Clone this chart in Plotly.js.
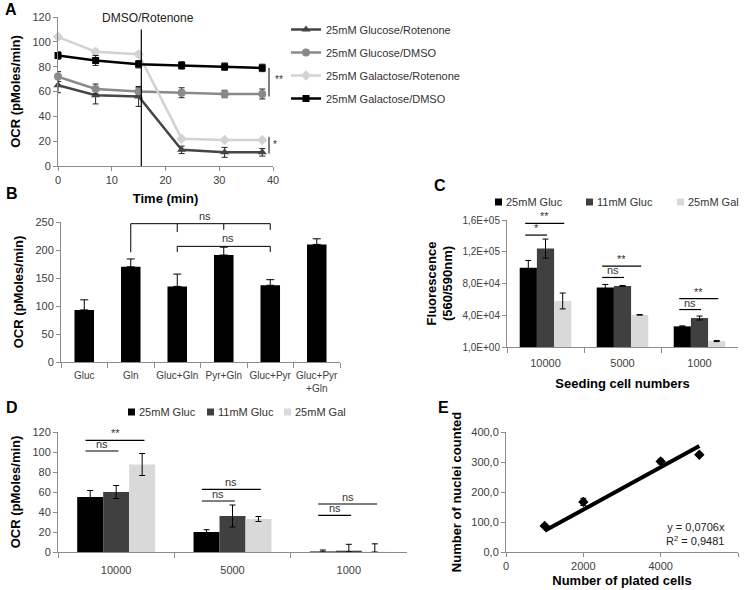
<!DOCTYPE html>
<html>
<head>
<meta charset="utf-8">
<script src="https://cdn.plot.ly/plotly-3.0.1.min.js"></script>
<style>html,body{margin:0;padding:0;background:#fff;}#chart{width:750px;height:590px;}</style>
</head>
<body>
<div id="chart"></div>
<script>
// ---------- Panel A data ----------
const timeA = [0, 7, 15, 23, 31, 38];
const seriesNamesA = ['25mM Glucose/Rotenone', '25mM Glucose/DMSO', '25mM Galactose/Rotenone', '25mM Galactose/DMSO'];
const glucRot = [65, 57, 56, 13, 11, 11];
const glucRotErr = [6, 7, 8, 3, 4, 3];
const glucDmso = [72, 62, 60, 59, 58, 58];
const glucDmsoErr = [4, 4, 3, 4, 3, 4];
const galRot = [104, 92, 90, 22, 21, 21];
const galRotErr = [2, 2, 2, 1, 1, 1];
const galDmso = [89, 85, 82, 81, 80, 79];
const galDmsoErr = [3, 4, 3, 3, 3, 3];
const treatmentTime = 15.5;

// ---------- Panel B data ----------
const catB = ['Gluc', 'Gln', 'Gluc+Gln', 'Pyr+Gln', 'Gluc+Pyr', 'Gluc+Pyr<br>+Gln'];
const valB = [93, 170, 135, 191, 137, 210];
const errB = [18, 14, 22, 14, 10, 10];

// ---------- Panel C data ----------
const catCD = ['10000', '5000', '1000'];
const groupNames = ['25mM Gluc', '11mM Gluc', '25mM Gal'];
const c25Gluc = [100000, 75000, 26000];
const c25GlucErr = [9000, 3800, 600];
const c11Gluc = [124000, 77000, 36500];
const c11GlucErr = [12000, 500, 2500];
const c25Gal = [58000, 40500, 7500];
const c25GalErr = [10000, 400, 700];
const cTickVals = [1, 40000, 80000, 120000, 160000];
const cTickText = ['1,0E+00', '4,0E+04', '8,0E+04', '1,2E+05', '1,6E+05'];

// ---------- Panel D data ----------
const d25Gluc = [55, 20, 0.5];
const d25GlucErr = [6.5, 2.3, 1.5];
const d11Gluc = [60, 36, 1.3];
const d11GlucErr = [6.5, 11, 6.4];
const d25Gal = [87.5, 33, 0.2];
const d25GalErr = [11, 2.5, 8];

// ---------- Panel E data ----------
const platedCells = [1000, 2000, 4000, 5000];
const nucleiCounted = [87, 167, 302, 324];
const nucleiErr = [5, 12, 8, 5];
const trendX = [1000, 5000];
const slopeE = 0.0706;
const r2E = '0,9481';

// ---------- significance marks ----------
// [category index, bar a, bar b, y level, label]
const sigC = [[0, 0, 2, 155800, '**'], [0, 0, 1, 141000, '*'], [1, 0, 2, 101900, '**'], [1, 0, 1, 87600, 'ns'], [2, 0, 2, 61000, '**'], [2, 0, 1, 47200, 'ns']];
const sigD = [[0, 0, 2, 111.7, '**'], [0, 0, 1, 101, 'ns'], [1, 0, 2, 62.7, 'ns'], [1, 0, 1, 51, 'ns'], [2, 0, 2, 48, 'ns'], [2, 0, 1, 36.7, 'ns']];

// ---------- helpers ----------
const W = 750, H = 590;
const FONT = 'Liberation Sans, Arial, sans-serif';
const TICKCOL = '#404040';
const LINECOL = '#8c8c8c';
function xd(a, b) { return [a / W, b / W]; }
function yd(top, bottom) { return [1 - bottom / H, 1 - top / H]; }
function axisBase(extra) {
  return Object.assign({
    showline: true, linecolor: LINECOL, linewidth: 1, ticks: 'outside', ticklen: 4, tickcolor: LINECOL,
    showgrid: false, zeroline: false, fixedrange: true, automargin: false, tickangle: 0,
    tickfont: { family: FONT, size: 11, color: TICKCOL }
  }, extra);
}
function titleObj(text, standoff) {
  return { text: '<b>' + text + '</b>', font: { family: FONT, size: 13, color: '#000' }, standoff: standoff };
}

const traces = [];
// Panel A
const colA = ['#454545', '#8a8a8a', '#d3d3d3', '#000000'];
const symA = ['triangle-up', 'circle', 'diamond', 'square'];
const valsA = [glucRot, glucDmso, galRot, galDmso];
const errsA = [glucRotErr, glucDmsoErr, galRotErr, galDmsoErr];
for (let i = 0; i < 4; i++) {
  traces.push({
    type: 'scatter', mode: 'lines+markers', x: timeA, y: valsA[i], name: seriesNamesA[i],
    xaxis: 'x', yaxis: 'y', legend: 'legend', legendgroup: 'a' + i, cliponaxis: false,
    line: { color: colA[i], width: 2.5 },
    marker: { color: colA[i], symbol: symA[i], size: i === 3 ? 7 : 8 },
    error_y: { type: 'data', array: errsA[i], color: i === 2 ? '#bdbdbd' : '#222', thickness: 1, width: 3 }
  });
}
// Panel B
traces.push({
  type: 'bar', x: catB, y: valB, xaxis: 'x2', yaxis: 'y2', width: 0.42, showlegend: false,
  marker: { color: '#000' },
  error_y: { type: 'data', array: errB, arrayminus: errB.map(() => 0), symmetric: false, color: '#000', thickness: 1, width: 4 }
});
// Panel C & D
const colCD = ['#000000', '#404040', '#d9d9d9'];
const valsC = [c25Gluc, c11Gluc, c25Gal], errsC = [c25GlucErr, c11GlucErr, c25GalErr];
const valsD = [d25Gluc, d11Gluc, d25Gal], errsD = [d25GlucErr, d11GlucErr, d25GalErr];
for (let i = 0; i < 3; i++) {
  traces.push({
    type: 'bar', x: catCD, y: valsC[i], name: groupNames[i], xaxis: 'x3', yaxis: 'y3', showlegend: false,
    marker: { color: colCD[i] },
    error_y: { type: 'data', array: errsC[i], color: '#000', thickness: 1, width: 3 }
  });
}
for (let i = 0; i < 3; i++) {
  traces.push({
    type: 'bar', x: catCD, y: valsD[i], name: groupNames[i], xaxis: 'x4', yaxis: 'y4', showlegend: false,
    marker: { color: colCD[i] },
    error_y: { type: 'data', array: errsD[i], arrayminus: errsD[i].map((e, k) => Math.min(e, valsD[i][k])), symmetric: false, color: '#000', thickness: 1, width: 3 }
  });
}
// Panel E
traces.push({
  type: 'scatter', mode: 'lines', x: trendX, y: trendX.map(v => slopeE * v), xaxis: 'x5', yaxis: 'y5',
  showlegend: false, line: { color: '#000', width: 4 }
});
traces.push({
  type: 'scatter', mode: 'markers', x: platedCells, y: nucleiCounted, xaxis: 'x5', yaxis: 'y5', showlegend: false,
  marker: { symbol: 'diamond', size: 8, color: '#000' },
  error_y: { type: 'data', array: nucleiErr, color: '#000', thickness: 1, width: 3 }
});

// ---------- shapes & annotations ----------
const shapes = [];
const annotations = [];
function ann(o) { annotations.push(Object.assign({ showarrow: false, font: { family: FONT, size: 11, color: '#333' } }, o)); }
function line(xref, yref, x0, y0, x1, y1, w, c) {
  shapes.push({ type: 'line', xref: xref, yref: yref, x0: x0, y0: y0, x1: x1, y1: y1, line: { color: c || '#000', width: w || 1 } });
}
// panel letters
[['A', 3, 10], ['B', 4, 193], ['C', 432, 185], ['D', 4, 407], ['E', 436, 407]].forEach(p => {
  ann({ text: '<b>' + p[0] + '</b>', xref: 'paper', yref: 'paper', x: p[1] / W, y: 1 - p[2] / H, xanchor: 'left', yanchor: 'middle', font: { family: FONT, size: 16, color: '#000' } });
});
// C & D compact legends (Excel style: small square + label)
function keyRow(xs, yPx) {
  groupNames.forEach((nm, i) => {
    shapes.push({ type: 'rect', xref: 'paper', yref: 'paper', x0: xs[i] / W, x1: (xs[i] + 7) / W, y0: 1 - (yPx + 3.5) / H, y1: 1 - (yPx - 3.5) / H, fillcolor: colCD[i], line: { width: 0 } });
    ann({ text: nm, xref: 'paper', yref: 'paper', x: (xs[i] + 9) / W, y: 1 - yPx / H, xanchor: 'left', yanchor: 'middle', font: { family: FONT, size: 11, color: '#333' } });
  });
}
keyRow([495, 586, 677], 202);
keyRow([128, 207, 284], 412);
// A: treatment line + label
line('x', 'y', treatmentTime, 0, treatmentTime, 110, 1.2, '#000');
ann({ text: 'DMSO/Rotenone', xref: 'x', yref: 'paper', x: treatmentTime + 1.2, y: 1 - 18 / H, yanchor: 'middle', font: { family: FONT, size: 12, color: '#222' } });
// A: significance (x in paper space just right of the last time point)
const sigAx = 269 / W;
line('paper', 'y', sigAx, galDmso[5], sigAx, glucDmso[5] - 2, 1, '#000');
ann({ text: '**', xref: 'paper', yref: 'y', x: 273 / W, y: (galDmso[5] + glucDmso[5]) / 2 + 1, xanchor: 'left', font: { family: FONT, size: 10, color: '#333' } });
line('paper', 'y', sigAx, galRot[5] + 2.5, sigAx, glucRot[5] - 1, 1, '#000');
ann({ text: '*', xref: 'paper', yref: 'y', x: 271 / W, y: (galRot[5] + glucRot[5]) / 2 + 1, xanchor: 'left', font: { family: FONT, size: 10, color: '#333' } });
// B: brackets
const bTop = 247, bMid = 206.5;
line('x2', 'y2', 1, bTop, 4, bTop);
line('x2', 'y2', 1, bTop, 1, valB[1] + errB[1] + 12);
line('x2', 'y2', 2, bTop, 2, bTop - 15);
line('x2', 'y2', 3, bTop, 3, bTop - 11);
line('x2', 'y2', 4, bTop, 4, bTop - 11);
ann({ text: 'ns', xref: 'x2', yref: 'y2', x: 2.6, y: bTop, yanchor: 'bottom' });
line('x2', 'y2', 2, bMid, 4, bMid);
line('x2', 'y2', 2, bMid, 2, bMid - 10);
line('x2', 'y2', 4, bMid, 4, bMid - 10);
ann({ text: 'ns', xref: 'x2', yref: 'y2', x: 3.1, y: bMid, yanchor: 'bottom' });
// C & D: significance lines
const barW = (1 - 0.33) / 3;
function sigLines(arr, xr, yr) {
  arr.forEach(s => {
    const xa = s[0] + (s[1] - 1) * barW - 0.04, xb = s[0] + (s[2] - 1) * barW + 0.02;
    line(xr, yr, xa, s[3], xb, s[3], 1.2, '#000');
    ann({ text: s[4], xref: xr, yref: yr, x: (xa + xb) / 2, y: s[3], yanchor: 'bottom', yshift: -1 });
  });
}
sigLines(sigC, 'x3', 'y3');
sigLines(sigD, 'x4', 'y4');
// E: equation
ann({ text: 'y = ' + String(slopeE).replace('.', ',') + 'x<br>R<sup>2</sup> = ' + r2E, xref: 'paper', yref: 'paper', x: 727 / W, y: 1 - 519 / H, xanchor: 'right', yanchor: 'top', align: 'right', font: { family: FONT, size: 11, color: '#222' } });

const legendFont = { family: FONT, size: 11, color: '#333' };
const layout = {
  width: W, height: H, autosize: false,
  margin: { l: 0, r: 0, t: 0, b: 0, autoexpand: false },
  paper_bgcolor: '#fff', plot_bgcolor: 'rgba(0,0,0,0)',
  font: { family: FONT, size: 11, color: '#333' },
  separators: ',.',
  barmode: 'group', bargap: 0.33, bargroupgap: 0,
  xaxis: axisBase({ domain: xd(58, 273), range: [0, 40], tickvals: [0, 10, 20, 30, 40], anchor: 'y', title: titleObj('Time (min)', 8) }),
  yaxis: axisBase({ domain: yd(17, 166), range: [0, 120], dtick: 20, anchor: 'x', title: titleObj('OCR (pMoles/min)', 8) }),
  xaxis2: axisBase({ domain: xd(61, 340), anchor: 'y2', tickson: 'boundaries', ticklen: 5, type: 'category', ticklabelstandoff: 4, tickfont: { family: FONT, size: 10, color: TICKCOL } }),
  yaxis2: axisBase({ domain: yd(222, 362), range: [0, 250], dtick: 50, anchor: 'x2', title: titleObj('OCR (pMoles/min)', 8) }),
  xaxis3: axisBase({ domain: xd(507, 738), anchor: 'y3', tickson: 'boundaries', ticklen: 5, type: 'category', ticklabelstandoff: 6, title: titleObj('Seeding cell numbers', 10) }),
  yaxis3: axisBase({ domain: yd(220, 347), range: [0, 160000], tickvals: cTickVals, ticktext: cTickText, anchor: 'x3', tickfont: { family: FONT, size: 10, color: TICKCOL }, title: titleObj('Fluorescence<br>(560/590nm)', 6) }),
  xaxis4: axisBase({ domain: xd(58, 407), anchor: 'y4', tickson: 'boundaries', ticklen: 5, type: 'category', ticklabelstandoff: 8 }),
  yaxis4: axisBase({ domain: yd(432, 552), range: [0, 120], dtick: 20, anchor: 'x4', title: titleObj('OCR (pMoles/min)', 8) }),
  xaxis5: axisBase({ domain: xd(506, 738), range: [0, 6000], dtick: 2000, anchor: 'y5', title: titleObj('Number of plated cells', 4) }),
  yaxis5: axisBase({ domain: yd(432, 552), range: [0, 400], dtick: 100, tickformat: '.1f', anchor: 'x5', title: titleObj('Number of nuclei counted', 6) }),
  legend: { x: 286 / W, y: 1 - 15 / H, xanchor: 'left', yanchor: 'top', font: legendFont, bgcolor: 'rgba(0,0,0,0)', itemwidth: 30, tracegroupgap: 4 },
  shapes: shapes,
  annotations: annotations
};
Plotly.newPlot('chart', traces, layout, { staticPlot: true, displayModeBar: false });
</script>
</body>
</html>
